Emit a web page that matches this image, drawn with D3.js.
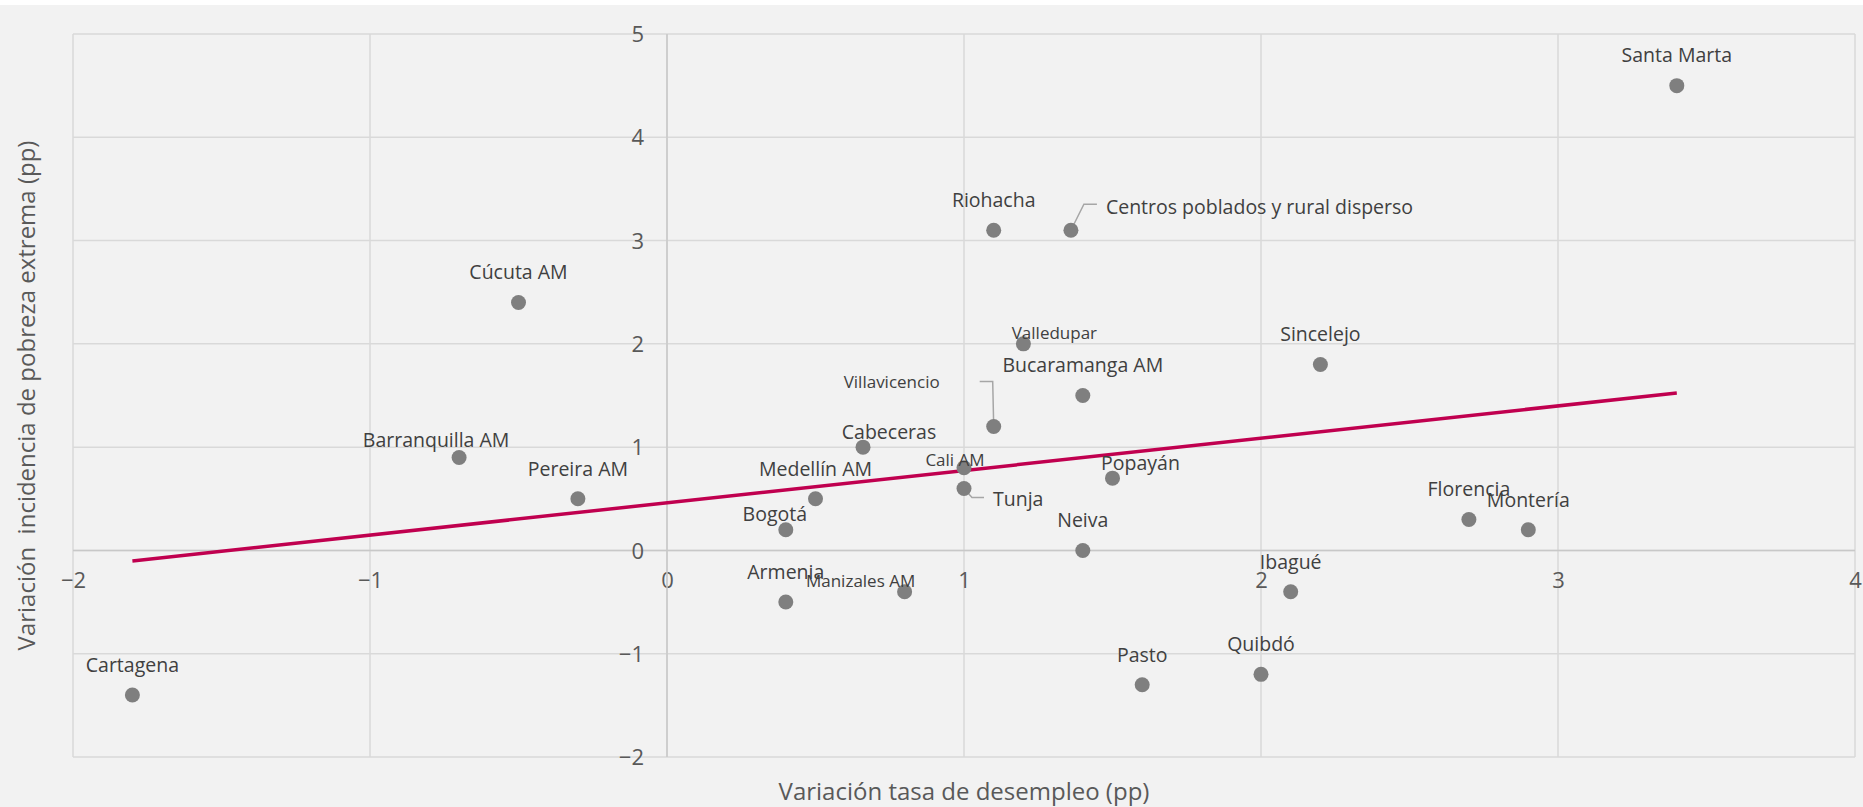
<!DOCTYPE html>
<html>
<head>
<meta charset="utf-8">
<script src="https://cdn.jsdelivr.net/npm/d3@7"></script>
<style>
  html, body { margin: 0; padding: 0; background: #ffffff; }
  svg { display: block; font-family: "Segoe UI", "Open Sans", sans-serif; }
</style>
</head>
<body>
<div id="chart"></div>
<script>
// data
const ciudades = [
  'Santa Marta', 'Riohacha', 'Centros poblados y rural disperso', 'Cúcuta AM',
  'Valledupar', 'Sincelejo', 'Bucaramanga AM', 'Villavicencio', 'Barranquilla AM',
  'Cabeceras', 'Pereira AM', 'Cali AM', 'Popayán', 'Medellín AM', 'Tunja',
  'Bogotá', 'Florencia', 'Montería', 'Neiva', 'Ibagué', 'Armenia',
  'Manizales AM', 'Cartagena', 'Pasto', 'Quibdó'
];
const desempleo = [
  3.4, 1.1, 1.36, -0.5, 1.2, 2.2, 1.4, 1.1, -0.7, 0.66, -0.3, 1.0, 1.5,
  0.5, 1.0, 0.4, 2.7, 2.9, 1.4, 2.1, 0.4, 0.8, -1.8, 1.6, 2.0
];
const pobreza = [
  4.5, 3.1, 3.1, 2.4, 2.0, 1.8, 1.5, 1.2, 0.9, 1.0, 0.5, 0.8, 0.7,
  0.5, 0.6, 0.2, 0.3, 0.2, 0.0, -0.4, -0.5, -0.4, -1.4, -1.3, -1.2
];
const xTicks = [-2, -1, 0, 1, 2, 3, 4];
const yTicks = [-2, -1, 0, 1, 2, 3, 4, 5];

// label placement tweaks (pixels, relative to the dot); default is centred above
const labelTweaks = {
  'Barranquilla AM': { dx: -23, dy: -17 },
  'Cabeceras': { dx: 26, dy: -15 },
  'Popayán': { dx: 28, dy: -15 },
  'Bogotá': { dx: -11, dy: -16 },
  'Cali AM': { dx: -9, dy: -8, small: true },
  'Manizales AM': { dx: -44, dy: -11, small: true },
  'Valledupar': { dx: 31, dy: -11, small: true },
  'Centros poblados y rural disperso': { dx: 35, dy: -23, anchor: 'start', leader: [[0, 0], [13, -26], [26, -26]] },
  'Villavicencio': { dx: -54, dy: -44, anchor: 'end', small: true, leader: [[0, 0], [-1, -45], [-14, -45]] },
  'Tunja': { dx: 29, dy: 11, anchor: 'start', leader: [[0, 0], [8, 9], [20, 9]] }
};

const width = 1863, height = 807;
const margin = { top: 34, right: 8, bottom: 50, left: 73 };

const svg = d3.select('#chart').append('svg')
  .attr('width', width)
  .attr('height', height);

// grey chart area, thin white strip on top
svg.append('rect')
  .attr('x', 0).attr('y', 5)
  .attr('width', width).attr('height', height - 5)
  .attr('fill', '#f2f2f2');

const x = d3.scaleLinear().domain([-2, 4]).range([margin.left, width - margin.right]);
const y = d3.scaleLinear().domain([-2, 5]).range([height - margin.bottom, margin.top]);

// gridlines
const grid = svg.append('g').attr('stroke', '#d9d9d9').attr('stroke-width', 1.5);
grid.selectAll('line.v').data(xTicks).enter().append('line')
  .attr('class', 'v')
  .attr('x1', d => x(d)).attr('x2', d => x(d))
  .attr('y1', y(-2)).attr('y2', y(5));
grid.selectAll('line.h').data(yTicks).enter().append('line')
  .attr('class', 'h')
  .attr('x1', x(-2)).attr('x2', x(4))
  .attr('y1', d => y(d)).attr('y2', d => y(d));

// axes cross at zero
const xAxis = svg.append('g')
  .attr('transform', `translate(0, ${y(0)})`)
  .call(d3.axisBottom(x).tickValues(xTicks).tickSize(0).tickPadding(22).tickFormat(d3.format('d')));
const yAxis = svg.append('g')
  .attr('transform', `translate(${x(0)}, 0)`)
  .call(d3.axisLeft(y).tickValues(yTicks).tickSize(0).tickPadding(23).tickFormat(d3.format('d')));

[xAxis, yAxis].forEach(a => {
  a.select('.domain').attr('stroke', '#c8c8c8').attr('stroke-width', 1.5);
  a.selectAll('text')
    .attr('fill', '#595959')
    .style('font-size', '22px')
    .style('font-family', '"Segoe UI", "Open Sans", sans-serif');
});
yAxis.selectAll('text').attr('dy', '0.35em');
xAxis.select('.domain').attr('d', `M${x(-2)},0H${x(4)}`);
yAxis.select('.domain').attr('d', `M0,${y(-2)}V${y(5)}`);

// linear trend (least squares)
const mx = d3.mean(desempleo), my = d3.mean(pobreza);
const sxy = d3.sum(desempleo, (v, i) => (v - mx) * (pobreza[i] - my));
const sxx = d3.sum(desempleo, v => (v - mx) * (v - mx));
const slope = sxy / sxx, intercept = my - slope * mx;
const xr = d3.extent(desempleo);

svg.append('path')
  .datum(xr.map(v => [v, intercept + slope * v]))
  .attr('fill', 'none')
  .attr('stroke', '#c0004f')
  .attr('stroke-width', 3.5)
  .attr('d', d3.line().x(d => x(d[0])).y(d => y(d[1])));

const points = ciudades.map((name, i) => ({ name, vx: desempleo[i], vy: pobreza[i] }));

// leader lines
const lineGen = d3.line();
svg.append('g').selectAll('path')
  .data(points.filter(p => labelTweaks[p.name] && labelTweaks[p.name].leader))
  .enter().append('path')
  .attr('fill', 'none')
  .attr('stroke', '#a6a6a6')
  .attr('stroke-width', 1.5)
  .attr('d', p => lineGen(labelTweaks[p.name].leader.map(o => [x(p.vx) + o[0], y(p.vy) + o[1]])));

// dots
svg.append('g').selectAll('circle')
  .data(points)
  .enter().append('circle')
  .attr('cx', p => x(p.vx))
  .attr('cy', p => y(p.vy))
  .attr('r', 7.5)
  .attr('fill', '#7f7f7f');

// labels
svg.append('g').selectAll('text')
  .data(points)
  .enter().append('text')
  .attr('x', p => x(p.vx) + ((labelTweaks[p.name] || {}).dx || 0))
  .attr('y', p => y(p.vy) + ((labelTweaks[p.name] || {}).dy || -30))
  .attr('dy', '0.35em')
  .attr('text-anchor', p => (labelTweaks[p.name] || {}).anchor || 'middle')
  .attr('fill', '#404040')
  .style('font-size', p => (labelTweaks[p.name] || {}).small ? '17px' : '19.5px')
  .text(p => p.name);

// axis titles
svg.append('text')
  .attr('x', (x(-2) + x(4)) / 2)
  .attr('y', 792)
  .attr('dy', '0.35em')
  .attr('text-anchor', 'middle')
  .attr('fill', '#595959')
  .style('font-size', '24px')
  .text('Variación tasa de desempleo (pp)');

svg.append('text')
  .attr('transform', `translate(27, ${(y(-2) + y(5)) / 2}) rotate(-90)`)
  .attr('dy', '0.35em')
  .attr('text-anchor', 'middle')
  .attr('fill', '#595959')
  .style('font-size', '24px')
  .style('white-space', 'pre')
  .text('Variación  incidencia de pobreza extrema (pp)');
</script>
</body>
</html>
